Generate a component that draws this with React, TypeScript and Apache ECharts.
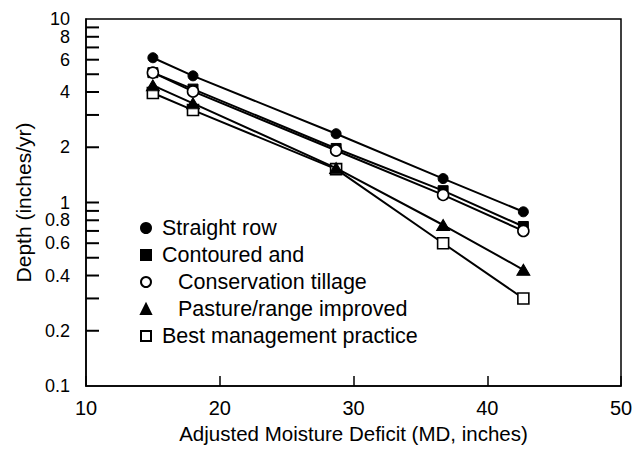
import React, { useEffect, useRef } from "react";
import * as echarts from "echarts";

// Adjusted moisture deficit (MD, inches)
const xValues = [15, 18, 28.7, 36.7, 42.7];
// Depth (inches/yr)
const straightRow = [6.15, 4.9, 2.37, 1.35, 0.89];
const contoured = [5.1, 4.15, 1.97, 1.16, 0.74];
const conservation = [5.1, 4.03, 1.92, 1.1, 0.7];
const pasture = [4.35, 3.47, 1.54, 0.754, 0.43];
const bestMgmt = [3.95, 3.19, 1.52, 0.6, 0.3];

const seriesNames = [
  "Straight row",
  "Contoured and",
  "Conservation tillage",
  "Pasture/range improved",
  "Best management practice",
];
const indentedNames = ["Conservation tillage", "Pasture/range improved"];

// y-axis (log) mark positions and labels
const yMarkValues = [0.2, 0.3, 0.4, 0.5, 0.6, 0.7, 0.8, 0.9, 1, 2, 3, 4, 5, 6, 7, 8, 9];
const yLabelValues = [0.1, 0.2, 0.4, 0.6, 0.8, 1, 2, 4, 6, 8, 10];
const yLabelTexts = ["0.1", "0.2", "0.4", "0.6", "0.8", "1", "2", "4", "6", "8", "10"];

const FONT = "'Liberation Sans', Arial, Helvetica, sans-serif";

const pairs = (ys: number[]) => xValues.map((x, i) => [x, ys[i]]);

export default function App() {
  const ref = useRef<HTMLDivElement>(null);
  useEffect(() => {
    if (!ref.current) return;
    const chart = echarts.init(ref.current, undefined, { renderer: "svg" });
    const lineStyle = { color: "#000", width: 2 };
    const filled = { color: "#000", borderColor: "#000", borderWidth: 1 };
    const open = { color: "#fff", borderColor: "#000", borderWidth: 1.6 };
    const base = {
      type: "line",
      lineStyle,
      emphasis: { disabled: true },
      silent: true,
    };
    chart.setOption({
      animation: false,
      backgroundColor: "#fff",
      textStyle: { fontFamily: FONT },
      grid: {
        left: 86,
        right: 21,
        top: 19,
        bottom: 64,
        show: true,
        borderColor: "#000",
        borderWidth: 1.5,
        containLabel: false,
      },
      xAxis: {
        type: "value",
        min: 10,
        max: 50,
        interval: 10,
        name: "Adjusted Moisture Deficit (MD, inches)",
        nameLocation: "middle",
        nameGap: 27,
        nameTextStyle: { fontSize: 20.5, color: "#000", fontFamily: FONT },
        axisLine: { show: true, lineStyle: { color: "#000", width: 1.5 } },
        axisTick: { show: true, inside: true, length: 10, lineStyle: { color: "#000", width: 1.5 } },
        axisLabel: { fontSize: 20, color: "#000", margin: 12, fontFamily: FONT },
        splitLine: { show: false },
      },
      yAxis: {
        type: "log",
        logBase: 10,
        min: 0.1,
        max: 10,
        name: "Depth (inches/yr)",
        nameLocation: "middle",
        nameGap: 52,
        nameTextStyle: { fontSize: 21, color: "#000", fontFamily: FONT },
        axisLine: { show: true, lineStyle: { color: "#000", width: 1.5 } },
        axisTick: { show: false },
        axisLabel: { show: false },
        splitLine: { show: false },
      },
      legend: {
        orient: "vertical",
        left: 135,
        top: 212,
        itemWidth: 10,
        itemHeight: 10,
        itemGap: 5,
        selectedMode: false,
        data: [
          { name: seriesNames[0], icon: "circle" },
          { name: seriesNames[1], icon: "rect" },
          { name: seriesNames[2], icon: "circle" },
          { name: seriesNames[3], icon: "triangle" },
          { name: seriesNames[4], icon: "rect" },
        ],
        formatter: (name: string) =>
          indentedNames.includes(name) ? `{wide|}${name}` : `{pad|}${name}`,
        textStyle: {
          fontSize: 21.5,
          color: "#000",
          fontFamily: FONT,
          rich: { pad: { width: 6 }, wide: { width: 22 } },
        },
      },
      series: [
        { ...base, name: seriesNames[0], data: pairs(straightRow), symbol: "circle", symbolSize: 10, itemStyle: filled, z: 3 },
        { ...base, name: seriesNames[1], data: pairs(contoured), symbol: "rect", symbolSize: 10, itemStyle: filled, z: 3 },
        { ...base, name: seriesNames[2], data: pairs(conservation), symbol: "circle", symbolSize: 11, itemStyle: open, z: 4 },
        { ...base, name: seriesNames[4], data: pairs(bestMgmt), symbol: "rect", symbolSize: 11, itemStyle: open, z: 4 },
        { ...base, name: seriesNames[3], data: pairs(pasture), symbol: "triangle", symbolSize: [13, 11], itemStyle: filled, z: 5 },
        {
          type: "line",
          name: "depthScaleMarks",
          data: yMarkValues.map((v) => [10, v]),
          symbol: "rect",
          symbolSize: [13, 2],
          symbolOffset: [6.5, 0],
          showSymbol: true,
          lineStyle: { width: 0 },
          itemStyle: { color: "#000" },
          z: 6,
        },
        {
          type: "custom",
          name: "depthScaleLabels",
          silent: true,
          clip: false,
          data: yLabelValues.map((v) => [10, v]),
          renderItem: (params: any, api: any) => {
            const p = api.coord([api.value(0), api.value(1)]);
            return {
              type: "group",
              children: [
                {
                  type: "text",
                  x: p[0] - 16,
                  y: p[1],
                  style: {
                    text: yLabelTexts[params.dataIndex],
                    align: "right",
                    verticalAlign: "middle",
                    fontSize: 18,
                    fill: "#000",
                    fontFamily: FONT,
                  },
                },
              ],
            };
          },
          z: 6,
        },
      ],
    });
    return () => chart.dispose();
  }, []);
  return (
    <div
      ref={ref}
      style={{ position: "fixed", left: 0, top: 0, width: 642, height: 450, background: "#fff" }}
    />
  );
}
